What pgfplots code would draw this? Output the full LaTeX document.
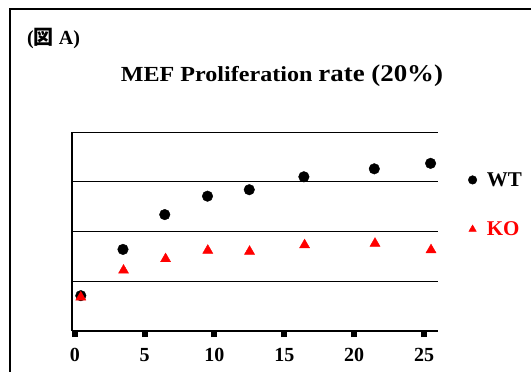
\documentclass[border=0pt]{standalone}
\usepackage{pgfplots}
\pgfplotsset{compat=1.18}
\usepackage{fontspec}
\setmainfont{Liberation Serif}
\newfontfamily\cjk{Noto Sans CJK JP}
\usepackage{graphicx}
\begin{document}
\begin{tikzpicture}[x=1pt,y=1pt]
\path[use as bounding box] (0,0) rectangle (531,-372);
\draw[line width=2pt] (10,-373) -- (10,-9) -- (532,-9);
\node[anchor=base west,inner sep=0pt,font=\bfseries\fontsize{20}{20}\selectfont] at (27,-45) {({\cjk 図} A)};
\node[anchor=base,inner sep=0pt] at (282,-81) {\scalebox{1.12}[1]{\bfseries\fontsize{21.5}{21.5}\selectfont MEF Proliferation {\fontsize{24}{24}\selectfont rate (20\%)}}};
\begin{axis}[
  at={(72pt,-331pt)}, anchor=south west,
  scale only axis, width=366pt, height=199pt,
  xmin=-0.2, xmax=26, ymin=0, ymax=4,
  axis lines=left, axis line style={line width=2pt,-},
  xtick={0,5,10,15,20,25}, ytick={1,2,3,4}, yticklabels={},
  ymajorgrids, major grid style={black,line width=0.8pt},
  major y tick style={draw=none},
  major x tick style={black,line width=6pt},
  tick align=outside, major tick length=6pt,
  /pgf/number format/assume math mode=true,
  xticklabel style={font=\bfseries\fontsize{20}{20}\selectfont, yshift=-8pt},
  clip=false,
  legend style={draw=none, fill=none, at={(1.074,0.635)}, anchor=west,
    font=\bfseries\fontsize{21}{21}\selectfont, row sep=30pt},
  legend cell align=left,
  legend image post style={mark size=4.3pt},
]
\addplot[only marks, mark=*, mark size=5.3pt, black] coordinates {
(0.43,0.71) (3.45,1.64) (6.44,2.34) (9.5,2.71) (12.49,2.84) (16.4,3.10) (21.44,3.26) (25.47,3.37)};
\addlegendentry{\hspace{8pt}WT}
\addplot[only marks, mark=triangle*, mark size=5.8pt, red] coordinates {
(0.43,0.68) (3.49,1.22) (6.5,1.45) (9.52,1.62) (12.51,1.60) (16.45,1.73) (21.49,1.76) (25.5,1.63)};
\addlegendentry{\hspace{8pt}\textcolor{red}{KO}}
\end{axis}
\end{tikzpicture}
\end{document}
